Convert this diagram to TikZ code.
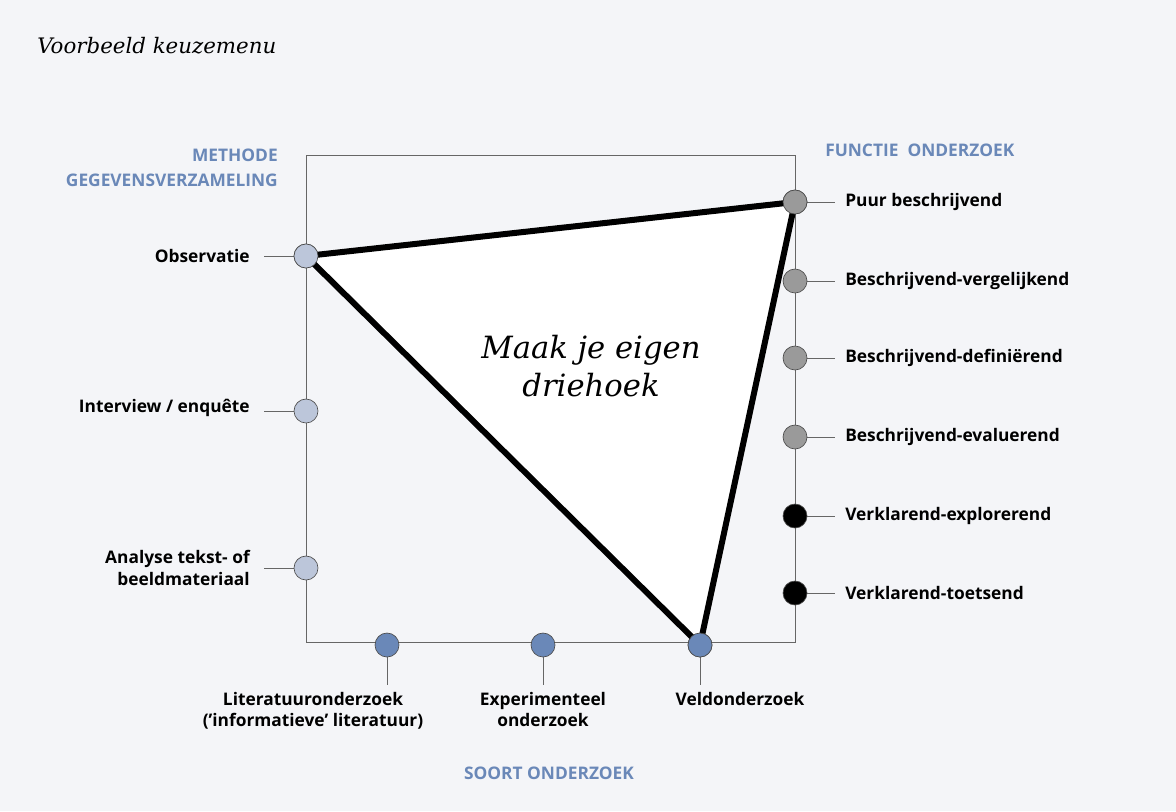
\documentclass[tikz,border=0pt]{standalone}
\usepackage{fontspec}
\setmainfont{Open Sans}
\newfontfamily\serifit{DejaVu Serif}
\definecolor{bg}{HTML}{F4F5F8}
\definecolor{hdr}{HTML}{6A88B8}
\definecolor{lb}{HTML}{BCC6DA}
\definecolor{gr}{HTML}{9A9A9A}
\begin{document}
\begin{tikzpicture}[x=0.75pt,y=-0.75pt,
  dot/.style={circle,draw=black!70,line width=0.5pt,minimum size=18pt,inner sep=0pt},
  tick/.style={draw=black!60,line width=0.6pt},
  lab/.style={font=\bfseries\fontsize{13}{16}\selectfont,inner sep=0pt},
  head/.style={font=\bfseries\fontsize{13}{19}\selectfont,text=hdr,inner sep=0pt}]
\fill[bg] (0,0) rectangle (1176,811);
\useasboundingbox (0,0) rectangle (1176,811);
\node[anchor=west,inner sep=0pt,font=\serifit\itshape\fontsize{16}{19}\selectfont] (title) at (37,46) {Voorbeeld keuzemenu};
\draw[black!60,line width=0.7pt] (306,155) rectangle (795,642);
% left
\foreach \n/\y in {l1/256,l2/411,l3/568}{
  \coordinate (\n a) at (264,\y); \coordinate (\n b) at (294,\y);
  \draw[tick] (\n a) -- (\n b);
  \node[dot,fill=lb] (\n) at (306,\y) {};}
\node[lab,anchor=east] (t1) at (250,256) {Observatie};
\node[lab,anchor=east] (t2) at (250,408) {Interview / enquête};
\node[lab,anchor=east,align=right] (t3) at (250,568) {Analyse tekst- of\\beeldmateriaal};
% right
\foreach \n/\y/\c in {r1/202/gr,r2/281/gr,r3/358/gr,r4/437/gr,r5/516/black,r6/593/black}{
  \coordinate (\n a) at (807,\y); \coordinate (\n b) at (835,\y);
  \draw[tick] (\n a) -- (\n b);
  \node[dot,fill=\c] (\n) at (795,\y) {};}
\node[lab,anchor=west] (u1) at (845,202) {Puur beschrijvend};
\node[lab,anchor=west] (u2) at (845,281) {Beschrijvend-vergelijkend};
\node[lab,anchor=west] (u3) at (845,358) {Beschrijvend-definiërend};
\node[lab,anchor=west] (u4) at (845,437) {Beschrijvend-evaluerend};
\node[lab,anchor=west] (u5) at (845,516) {Verklarend-explorerend};
\node[lab,anchor=west] (u6) at (845,593) {Verklarend-toetsend};
% bottom
\foreach \n/\x in {b1/387,b2/543,b3/700}{
  \coordinate (\n a) at (\x,657); \coordinate (\n b) at (\x,685);
  \draw[tick] (\n a) -- (\n b);
  \node[dot,fill=hdr] (\n) at (\x,645) {};}
\node[lab,anchor=north,align=center] (v1) at (313,692) {Literatuuronderzoek\\('informatieve' literatuur)};
\node[lab,anchor=north,align=center] (v2) at (543,692) {Experimenteel\\onderzoek};
\node[lab,anchor=north] (v3) at (740,692) {Veldonderzoek};
% triangle
\draw[line width=4.5pt,fill=white,line join=round] (l1.center) -- (r1.center) -- (b3.center) -- cycle;
\node[dot,fill=lb] at (l1) {};
\node[dot,fill=gr] at (r1) {};
\node[dot,fill=hdr] at (b3) {};
\node[align=center,font=\serifit\itshape\fontsize{23}{28}\selectfont] (c) at (591,366) {Maak je eigen\\driehoek};
% headers
\node[head,anchor=east,align=right] (h1) at (278,168) {METHODE\\GEGEVENSVERZAMELING};
\node[head,anchor=west] (h2) at (825,150) {FUNCTIE\ \ ONDERZOEK};
\node[head] (h3) at (549,773) {SOORT ONDERZOEK};
\end{tikzpicture}
\end{document}
